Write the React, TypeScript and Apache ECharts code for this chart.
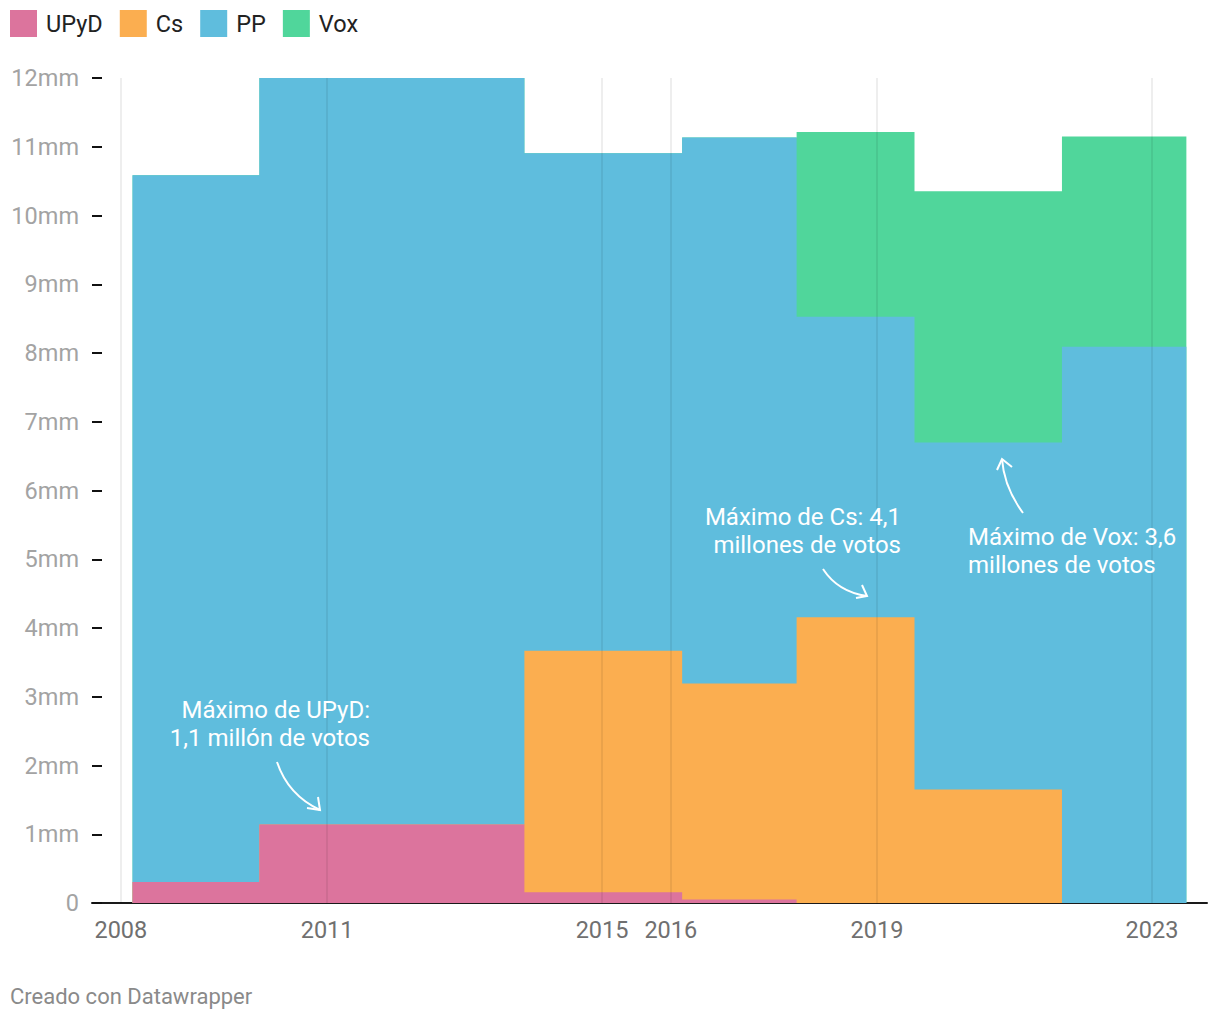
import React, { useEffect, useRef } from "react";
import * as echarts from "echarts";

// Election points (decimal years)
const electionYears = [2008.17, 2011.86, 2015.88, 2016.45, 2019.21, 2019.88, 2023.5];
// Votes in millions
const upydVotes = [0.306, 1.143, 0.155, 0.051, 0, 0, 0];
const csVotes = [0, 0, 3.515, 3.141, 4.155, 1.65, 0];
const ppVotes = [10.278, 10.867, 7.236, 7.941, 4.373, 5.047, 8.091];
const voxVotes = [0, 0, 0, 0, 2.688, 3.657, 3.057];

const seriesNames = ["UPyD", "Cs", "PP", "Vox"];
const seriesColors = ["#dc749d", "#fbae50", "#5fbddd", "#50d69b"];
const xTickYears = [2008, 2011, 2015, 2016, 2019, 2023];
const xMinYear = 2007.58;
const xMaxYear = 2023.8;

const FONT = "Roboto, 'Noto Sans', sans-serif";

export default function App() {
  const ref = useRef<HTMLDivElement>(null);
  useEffect(() => {
    if (!ref.current) return;
    const chart = echarts.init(ref.current, null, { renderer: "svg" });
    const all = [upydVotes, csVotes, ppVotes, voxVotes];
    // cumulative stack (bottom to top), computed from the data
    const cum: number[][] = [];
    all.forEach((vals, i) => {
      cum.push(vals.map((v, j) => v + (i > 0 ? cum[i - 1][j] : 0)));
    });
    // draw top layer first so lower layers cover it
    const order = [3, 2, 1, 0];
    const series: any[] = order.map((i) => ({
      name: seriesNames[i],
      type: "line",
      step: "middle",
      showSymbol: false,
      symbol: "none",
      lineStyle: { width: 0 },
      areaStyle: { color: seriesColors[i], opacity: 1 },
      itemStyle: { color: seriesColors[i] },
      data: cum[i].map((v, j) => [electionYears[j], v]),
      z: 2,
    }));
    series[3].markLine = {
      silent: true,
      symbol: ["none", "none"],
      label: { show: false },
      lineStyle: { color: "rgba(0,0,0,0.09)", width: 1.5, type: "solid" },
      data: xTickYears.map((y) => ({ xAxis: y })),
    };
    const arrow = (x1: number, y1: number, cx: number, cy: number, x2: number, y2: number, a1: number[], a2: number[]) => [
      {
        type: "bezierCurve",
        shape: { x1, y1, cpx1: cx, cpy1: cy, x2, y2 },
        style: { stroke: "#fff", lineWidth: 2, fill: "none" },
        z: 100,
      },
      {
        type: "polyline",
        shape: { points: [a1, [x2, y2], a2] },
        style: { stroke: "#fff", lineWidth: 2, fill: "none" },
        z: 100,
      },
    ];
    const annText = (x: number, y: number, text: string, align: string) => ({
      type: "text",
      x,
      y,
      z: 100,
      style: {
        text,
        fill: "#ffffff",
        font: `24px ${FONT}`,
        align,
        verticalAlign: "top",
        lineHeight: 28,
      },
    });
    chart.setOption({
      animation: false,
      textStyle: { fontFamily: FONT },
      legend: {
        left: 10,
        top: 10,
        padding: 0,
        icon: "rect",
        itemWidth: 27,
        itemHeight: 27,
        itemGap: 17,
        data: seriesNames,
        textStyle: { fontSize: 23.5, color: "#222", padding: [2, 0, 0, 4], fontFamily: FONT },
      },
      grid: { left: 92, right: 13, top: 78, bottom: 117 },
      xAxis: {
        type: "value",
        min: xMinYear,
        max: xMaxYear,
        axisLine: { show: true, lineStyle: { color: "#1a1a1a", width: 2 } },
        axisTick: { show: false },
        splitLine: { show: false },
        axisLabel: {
          customValues: xTickYears,
          formatter: (v: number) => String(v),
          color: "#707070",
          fontSize: 23.5,
          margin: 15,
          fontFamily: FONT,
        },
      },
      yAxis: {
        type: "value",
        min: 0,
        max: 12,
        interval: 1,
        axisLine: { show: false },
        axisTick: { show: true, inside: true, length: 10, lineStyle: { color: "#111", width: 2 } },
        splitLine: { show: false },
        axisLabel: {
          formatter: (v: number) => (v === 0 ? "0" : v + "mm"),
          color: "#a3a3a3",
          fontSize: 23.5,
          margin: 13,
          fontFamily: FONT,
        },
      },
      series,
      graphic: [
        annText(370, 696, "Máximo de UPyD:\n1,1 millón de votos", "right"),
        ...arrow(277, 762, 288, 795, 320, 810, [307, 808], [318, 797]),
        annText(901, 503, "Máximo de Cs: 4,1\nmillones de votos", "right"),
        ...arrow(823, 569, 838, 592, 867, 596, [856, 598], [862, 585]),
        annText(968, 523, "Máximo de Vox: 3,6\nmillones de votos", "left"),
        ...arrow(1023, 513, 1004, 487, 1002, 459, [997, 470], [1012, 467]),
        {
          type: "text",
          left: 10,
          top: 985,
          style: { text: "Creado con Datawrapper", fill: "#8a8a8a", font: `22px ${FONT}` },
        },
      ],
    });
    return () => chart.dispose();
  }, []);
  return (
    <div
      ref={ref}
      style={{ position: "fixed", left: 0, top: 0, width: 1220, height: 1020, background: "#fff" }}
    />
  );
}
